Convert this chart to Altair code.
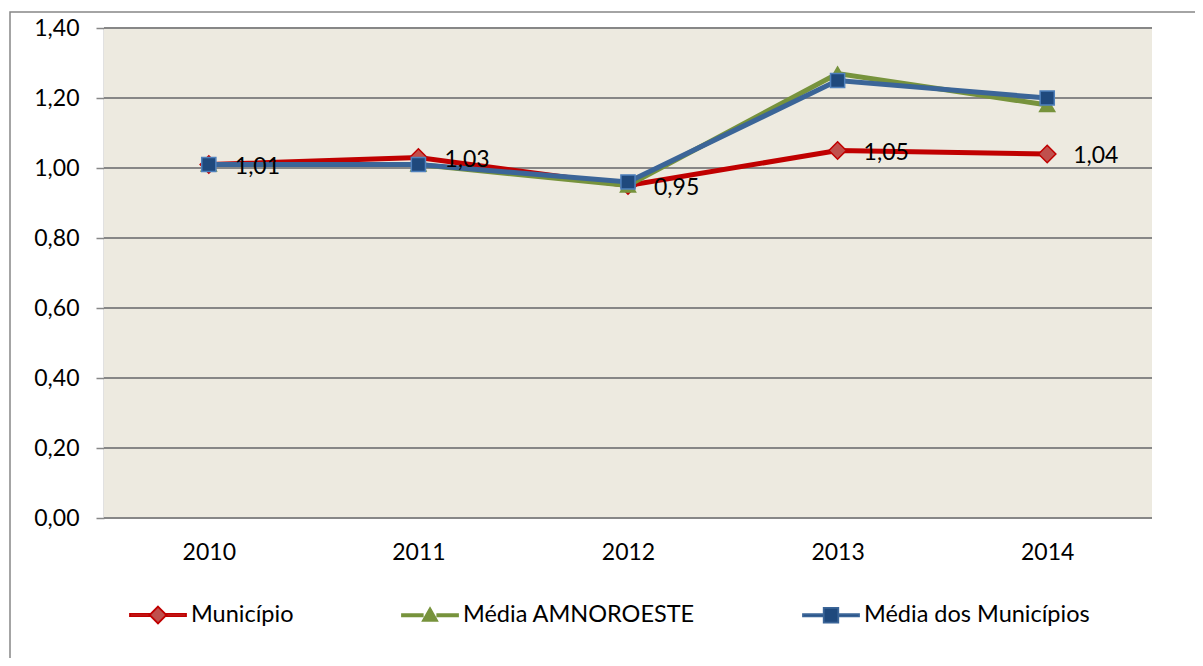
import altair as alt
import pandas as pd

anos = ["2010", "2011", "2012", "2013", "2014"]
series = ["Município", "Média AMNOROESTE", "Média dos Municípios"]
municipio = [1.01, 1.03, 0.95, 1.05, 1.04]
amnoroeste = [1.01, 1.01, 0.95, 1.27, 1.18]
media_municipios = [1.01, 1.01, 0.96, 1.25, 1.20]
y_ticks = [0.0, 0.2, 0.4, 0.6, 0.8, 1.0, 1.2, 1.4]

valores = {series[0]: municipio, series[1]: amnoroeste, series[2]: media_municipios}
rows = []
for s in series:
    for a, v in zip(anos, valores[s]):
        rows.append({"ano": a, "serie": s, "valor": v})
df = pd.DataFrame(rows)
ticks_df = pd.DataFrame({"valor": y_ticks})

line_colors = ["#C00000", "#77933C", "#3B6598"]
marker_fill = ["#C0504D", "#77933C", "#1F497D"]
marker_stroke = ["#C00000", "#77933C", "#4F81BD"]
marker_shape = ["diamond", "triangle-up", "square"]
marker_size = [300, 230, 200]

# legend symbols: line segment + marker, in unit coordinates
legend_paths = [
    "M-1,-0.04H-0.28V0.04H-1Z M0.28,-0.04H1V0.04H0.28Z M0,-0.3L0.3,0L0,0.3L-0.3,0Z",
    "M-1,-0.04H-0.26V0.04H-1Z M0.26,-0.04H1V0.04H0.26Z M0,-0.26L0.26,0.2H-0.26Z",
    "M-1,-0.04H-0.26V0.04H-1Z M0.26,-0.04H1V0.04H0.26Z M-0.26,-0.26H0.26V0.26H-0.26Z",
]

FONT = "Lato"
GRID = "#878787"

x_enc = alt.X(
    "ano:O",
    sort=anos,
    scale=alt.Scale(type="point", padding=0.5),
    axis=alt.Axis(title=None, labelAngle=0, domain=False, ticks=False, grid=False,
                  labelPadding=23, labelFontSize=23, labelFont=FONT, labelColor="#000000"),
)
y_scale = alt.Scale(domain=[0, 1.4], nice=False)
y_enc = alt.Y(
    "valor:Q",
    scale=y_scale,
    axis=alt.Axis(title=None, values=y_ticks, grid=False,
                  domainColor=GRID, domainWidth=1.5, tickColor=GRID, tickWidth=1.5,
                  tickSize=8, labelPadding=17, labelFontSize=23, labelFont=FONT,
                  labelColor="#000000",
                  labelExpr="replace(format(datum.value, '.2f'), '.', ',')"),
)

one_row = alt.Data(values=[{"k": 1}])

plot_bg = alt.Chart(one_row).mark_rect(fill="#EDEAE0", strokeWidth=0).encode(
    x=alt.value(0), x2=alt.value({"expr": "width"}),
    y=alt.value(0), y2=alt.value({"expr": "height"}),
)

border = alt.Chart(one_row).mark_rect(
    fillOpacity=0, stroke=GRID, strokeWidth=1.5, clip=False
).encode(x=alt.value(-94), x2=alt.value(1140), y=alt.value(-16), y2=alt.value(680))

gridlines = alt.Chart(ticks_df).mark_rule(color=GRID, strokeWidth=2).encode(
    y=y_enc,
    x=alt.value(0), x2=alt.value({"expr": "width"}),
)

layers = [plot_bg, border, gridlines]
for i, s in enumerate(series):
    sub = alt.Chart(df).transform_filter(alt.datum.serie == s)
    layers.append(sub.mark_line(color=line_colors[i], strokeWidth=5).encode(x=x_enc, y=y_enc))
    layers.append(
        sub.mark_point(shape=marker_shape[i], filled=True, fill=marker_fill[i],
                       stroke=marker_stroke[i], strokeWidth=1.5, size=marker_size[i],
                       opacity=1).encode(x=x_enc, y=y_enc)
    )

labels = alt.Chart(df).transform_filter(alt.datum.serie == series[0]).transform_calculate(
    rotulo="replace(format(datum.valor, '.2f'), '.', ',')"
).mark_text(align="left", baseline="middle", dx=26, dy=2, fontSize=23, font=FONT,
            color="#000000").encode(x=x_enc, y=y_enc, text="rotulo:N")
layers.append(labels)

legend_layer = alt.Chart(df).transform_filter("false").mark_point(
    filled=True, strokeWidth=1.8, size=3136, opacity=1
).encode(
    shape=alt.Shape("serie:N", scale=alt.Scale(domain=series, range=legend_paths),
                    legend=alt.Legend(title=None, orient="none", direction="horizontal",
                                      legendX=25, legendY=558, padding=0,
                                      columnPadding=104, labelOffset=4,
                                      labelFontSize=23.5, labelFont=FONT, labelColor="#000000",
                                      symbolSize=3136, symbolStrokeWidth=1.8, labelLimit=400)),
    fill=alt.Fill("serie:N", scale=alt.Scale(domain=series, range=marker_fill)),
    stroke=alt.Stroke("serie:N", scale=alt.Scale(domain=series, range=line_colors)),
)
layers.append(legend_layer)

chart = alt.layer(*layers).properties(
    width=1048,
    height=490,
    autosize=alt.AutoSizeParams(type="none"),
    padding={"left": 96, "top": 20, "right": 43, "bottom": 140},
    background="#FFFFFF",
).configure_view(fill="#EDEAE0", stroke="transparent")

chart.save("out.html", embed_options={"renderer": "svg", "actions": False})
